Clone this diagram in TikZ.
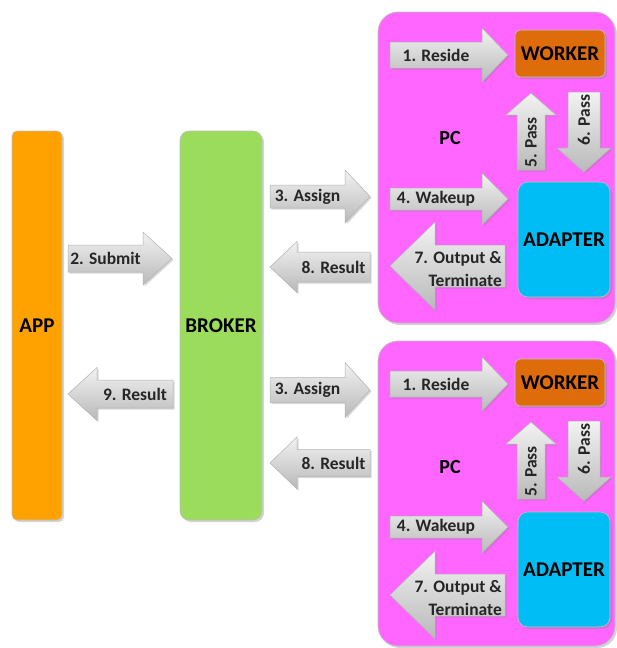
\documentclass[tikz,border=0pt]{standalone}
\usepackage{fontspec}
\setmainfont{Carlito}
\usetikzlibrary{shadows}
\definecolor{appc}{HTML}{FFA200}
\definecolor{brokc}{HTML}{9CDC5C}
\definecolor{pcc}{HTML}{FF66FF}
\definecolor{workc}{HTML}{DF6C0A}
\definecolor{adapc}{HTML}{00BEF5}
\tikzset{
  box/.style={draw=black!25, line width=0.6pt, drop shadow={opacity=0.35, shadow xshift=2pt, shadow yshift=-2pt}, font=\fontsize{21}{23}\selectfont\bfseries, inner sep=0pt},
  arrowfill/.style={top color=gray!10, bottom color=gray!55, draw=gray!60, line width=0.5pt, drop shadow={opacity=0.3, shadow xshift=1.5pt, shadow yshift=-1.5pt}},
  lbl/.style={font=\fontsize{17.5}{18}\selectfont\bfseries, text=black!85, inner sep=0pt, align=center},
}
% right arrow: name, x1, xtip, yc, body half, head half, head base x, text
\newcommand{\rarr}[8]{%
  \path[arrowfill] (#2,{#4-#5}) -- (#7,{#4-#5}) -- (#7,{#4-#6}) -- (#3,#4) -- (#7,{#4+#6}) -- (#7,{#4+#5}) -- (#2,{#4+#5}) -- cycle;
  \node[lbl] (#1) at ({(#2+#7)/2},#4) {#8};}
% left arrow: name, xtip, x2, yc, body half, head half, head base x, text
\newcommand{\larr}[8]{%
  \path[arrowfill] (#3,{#4-#5}) -- (#7,{#4-#5}) -- (#7,{#4-#6}) -- (#2,#4) -- (#7,{#4+#6}) -- (#7,{#4+#5}) -- (#3,{#4+#5}) -- cycle;
  \node[lbl] (#1) at ({(#3+#7)/2},#4) {#8};}
% left arrow with right-aligned two-line text
\newcommand{\larrtwo}[8]{%
  \path[arrowfill] (#3,{#4-#5}) -- (#7,{#4-#5}) -- (#7,{#4-#6}) -- (#2,#4) -- (#7,{#4+#6}) -- (#7,{#4+#5}) -- (#3,{#4+#5}) -- cycle;
  \node[lbl, align=right, anchor=east] (#1) at ({#3-3},{#4+3}) {#8};}
% vertical arrow: name, xc, ytip, yend, body half, head half, head base y, text
\newcommand{\varr}[8]{%
  \path[arrowfill] ({#2-#5},#4) -- ({#2-#5},#7) -- ({#2-#6},#7) -- (#2,#3) -- ({#2+#6},#7) -- ({#2+#5},#7) -- ({#2+#5},#4) -- cycle;
  \node[lbl, rotate=90] (#1) at (#2,{(#4+#7)/2}) {#8};}
\begin{document}
\begin{tikzpicture}[x=1pt,y=-1pt]
\useasboundingbox (0,0) rectangle (617,648);
% main boxes
\node[box, fill=appc, rounded corners=5pt, minimum width=50pt, minimum height=389pt] (app) at (37,325.5) {APP};
\node[box, fill=brokc, rounded corners=9pt, minimum width=82pt, minimum height=389pt] (broker) at (221,325.5) {BROKER};
% PC boxes
\node[box, fill=pcc, rounded corners=20pt, minimum width=237pt, minimum height=311pt] (pcA) at (496.5,167.5) {};
\node[box, fill=pcc, rounded corners=20pt, minimum width=237pt, minimum height=305pt] (pcB) at (496.5,493.5) {};
% top PC content
\node[lbl, font=\fontsize{20}{22}\selectfont\bfseries, text=black] (pclabA) at (450,138) {PC};
\node[box, fill=workc, rounded corners=6pt, minimum width=90pt, minimum height=47pt] (workerA) at (560,53.5) {WORKER};
\node[box, fill=adapc, rounded corners=10pt, minimum width=92pt, minimum height=115pt] (adapterA) at (564,239.5) {ADAPTER};
\rarr{resideA}{390}{508}{55}{13}{27}{482}{1. Reside}
\varr{passupA}{531}{93}{170}{14}{25}{115}{5. Pass}
\varr{passdnA}{584}{172}{92}{16}{27}{148}{6. Pass}
\rarr{wakeA}{390}{508}{199}{11}{26}{482}{4. Wakeup}
\larrtwo{outA}{390}{505}{266}{21}{44}{435}{7. Output \&\\[5pt]Terminate}
% bottom PC content
\node[lbl, font=\fontsize{20}{22}\selectfont\bfseries, text=black] (pclabB) at (450,467) {PC};
\node[box, fill=workc, rounded corners=6pt, minimum width=90pt, minimum height=47pt] (workerB) at (560,382.5) {WORKER};
\node[box, fill=adapc, rounded corners=10pt, minimum width=92pt, minimum height=115pt] (adapterB) at (564,569.5) {ADAPTER};
\rarr{resideB}{390}{508}{384}{13}{27}{482}{1. Reside}
\varr{passupB}{531}{422}{499}{14}{25}{444}{5. Pass}
\varr{passdnB}{584}{501}{421}{16}{27}{477}{6. Pass}
\rarr{wakeB}{390}{508}{527}{11}{26}{482}{4. Wakeup}
\larrtwo{outB}{390}{505}{595}{21}{44}{435}{7. Output \&\\[5pt]Terminate}
% broker <-> PC arrows
\rarr{assignA}{270}{370}{196.5}{11.5}{26.5}{345}{3. Assign}
\larr{resultA}{270}{370}{267}{15}{25.5}{297}{8. Result}
\rarr{assignB}{270}{370}{390}{12.5}{27.5}{345}{3. Assign}
\larr{resultB}{270}{370}{463}{13.5}{26}{297}{8. Result}
% app <-> broker arrows
\rarr{submit}{68}{172}{258.5}{13.5}{26.5}{143}{2. Submit}
\larr{resultApp}{68}{173}{394}{14}{26.5}{97}{9. Result}
\end{tikzpicture}
\end{document}
